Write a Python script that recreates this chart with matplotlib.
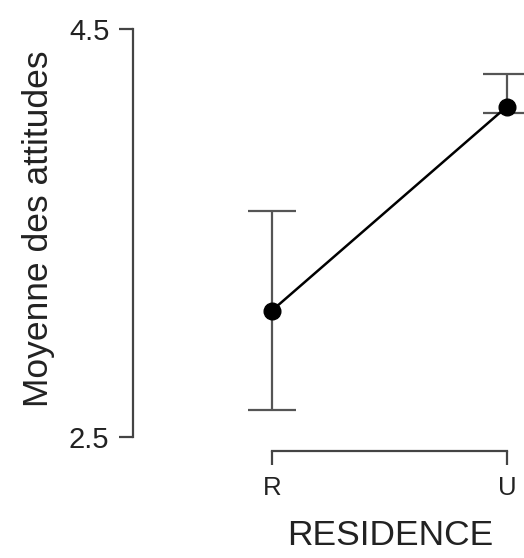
import matplotlib.pyplot as plt
import numpy as np

plt.rcParams['font.family'] = ['Liberation Sans', 'DejaVu Sans']

# data
groups = ["R", "U"]
means = [3.12, 4.12]
lower = [2.63, 4.09]
upper = [3.61, 4.28]

x = np.arange(len(groups))
err = [np.array(means) - np.array(lower), np.array(upper) - np.array(means)]

# pixel layout: y 4.5 -> 29px, 2.5 -> 437px; x R -> 272px, U -> 507px
fig = plt.figure(figsize=(5.24, 5.58), dpi=100)
ax = fig.add_axes([133 / 524, (558 - 451) / 558, 1 - 133 / 524, (451 - 20) / 558])

ax.errorbar(x, means, yerr=err, fmt='none', ecolor='#555555', elinewidth=1.6,
            capsize=17.5, capthick=1.6, clip_on=False, zorder=2)
ax.plot(x, means, color='black', linewidth=1.8, marker='o', markersize=12,
        clip_on=False, zorder=3)

ax.set_xlim(-139 / 235, 1 + 17 / 235)
ax.set_ylim(4.5 - 422 / 204, 4.5 + 9 / 204)

ax.set_xticks(x)
ax.set_xticklabels(groups)
ax.set_yticks([2.5, 4.5])
ax.set_yticklabels(["2.5", "4.5"])

for s in ['top', 'right']:
    ax.spines[s].set_visible(False)
ax.spines['left'].set_bounds(2.5, 4.5)
ax.spines['bottom'].set_bounds(0, 1)
for s in ['left', 'bottom']:
    ax.spines[s].set_linewidth(1.6)
    ax.spines[s].set_color('#444444')

ax.tick_params(axis='both', length=10, width=1.6, color='#444444',
               labelcolor='#222222')
ax.tick_params(axis='y', labelsize=21, pad=7)
ax.tick_params(axis='x', labelsize=18.5, pad=8)

ax.set_xlabel("RESIDENCE", fontsize=25.5, color='#222222', labelpad=14)
ax.xaxis.label.set_x((390 - 133) / 391)
ax.set_ylabel("Moyenne des attitudes", fontsize=25.5, color='#222222', labelpad=10)
ax.yaxis.label.set_y((451 - 229) / 431)

fig.savefig("out.png", dpi=100)
